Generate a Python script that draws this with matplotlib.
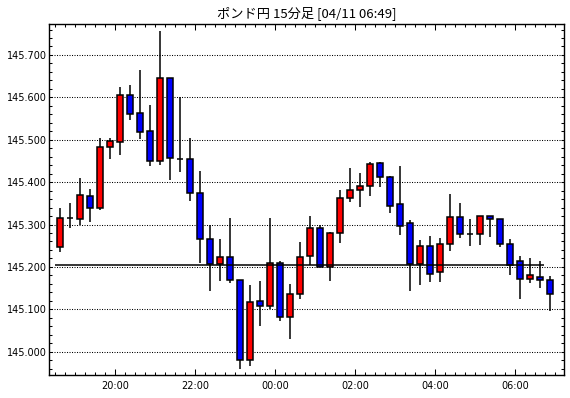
import matplotlib
matplotlib.use("Agg")
import matplotlib.pyplot as plt
import numpy as np

# ポンド円 15分足, 50 candles (19:00 .. 06:45)
opens = [145.248, 145.315, 145.314, 145.367, 145.340, 145.483, 145.495, 145.605, 145.562, 145.520,
         145.451, 145.645, 145.455, 145.454, 145.374, 145.265, 145.208, 145.223, 145.169, 144.980,
         145.120, 145.108, 145.209, 145.081, 145.135, 145.225, 145.291, 145.199, 145.279, 145.362,
         145.381, 145.390, 145.444, 145.411, 145.348, 145.303, 145.208, 145.249, 145.187, 145.253,
         145.317, 145.278, 145.277, 145.319, 145.312, 145.253, 145.214, 145.171, 145.175, 145.168]
highs = [145.339, 145.351, 145.410, 145.384, 145.504, 145.505, 145.624, 145.630, 145.664, 145.582,
         145.756, 145.645, 145.600, 145.504, 145.426, 145.300, 145.265, 145.315, 145.169, 145.157,
         145.167, 145.315, 145.213, 145.160, 145.259, 145.320, 145.300, 145.283, 145.381, 145.434,
         145.421, 145.448, 145.448, 145.415, 145.439, 145.311, 145.263, 145.273, 145.268, 145.372,
         145.351, 145.313, 145.319, 145.319, 145.312, 145.265, 145.226, 145.221, 145.214, 145.178]
lows = [145.236, 145.292, 145.300, 145.306, 145.335, 145.455, 145.464, 145.547, 145.502, 145.439,
        145.441, 145.405, 145.425, 145.356, 145.210, 145.144, 145.167, 145.161, 144.960, 144.967,
        145.061, 145.100, 145.073, 145.031, 145.125, 145.204, 145.199, 145.167, 145.257, 145.354,
        145.342, 145.368, 145.389, 145.328, 145.276, 145.142, 145.157, 145.165, 145.165, 145.238,
        145.269, 145.250, 145.252, 145.271, 145.248, 145.182, 145.124, 145.163, 145.151, 145.095]
closes = [145.315, 145.315, 145.369, 145.340, 145.484, 145.497, 145.605, 145.561, 145.519, 145.451,
          145.645, 145.456, 145.455, 145.374, 145.265, 145.208, 145.223, 145.169, 144.980, 145.117,
          145.108, 145.209, 145.081, 145.135, 145.223, 145.291, 145.199, 145.279, 145.362, 145.381,
          145.391, 145.443, 145.411, 145.343, 145.297, 145.208, 145.249, 145.184, 145.254, 145.318,
          145.277, 145.278, 145.319, 145.312, 145.253, 145.204, 145.171, 145.180, 145.168, 145.135]

time_labels = ["20:00", "22:00", "00:00", "02:00", "04:00", "06:00"]
time_label_pos = [5.5, 13.5, 21.5, 29.5, 37.5, 45.5]
price_line = 145.2045

fig = plt.figure(figsize=(5.7, 3.98), dpi=100)
ax = fig.add_axes([49 / 570, 1 - 375 / 398, 515 / 570, 351 / 398])

o = np.array(opens)
c = np.array(closes)
x = np.arange(len(o))
up = c >= o
colors = np.where(up, "#ff0000", "#0000ff")
bottoms = np.minimum(o, c)
heights = np.abs(c - o)

ax.vlines(x, lows, highs, color="black", linewidth=1.1, zorder=2)
ax.bar(x, heights, bottom=bottoms, width=0.62, color=colors,
       edgecolor="black", linewidth=1.1, zorder=3)

ax.hlines(price_line, -0.5, 48.4, color="black", linewidth=1.1, zorder=4)

ax.set_xlim(-1.13, 50.37)
ax.set_ylim(144.945, 145.773)

ax.set_yticks(np.arange(145.0, 145.75, 0.1))
ax.set_yticklabels(["%.3f" % v for v in np.arange(145.0, 145.75, 0.1)])
ax.set_yticks(np.arange(144.96, 145.77, 0.02), minor=True)
ax.set_xticks(time_label_pos)
ax.set_xticklabels(time_labels)
ax.set_xticks(np.arange(-0.5, 50.0, 1.0), minor=True)

ax.yaxis.grid(True, which="major", color="black", linestyle=(0, (1, 1.4)), linewidth=0.75)
ax.set_axisbelow(True)

ax.tick_params(axis="both", which="both", direction="in", top=True, right=True,
               width=0.75, color="black", labelsize=7)
ax.tick_params(axis="x", which="major", length=4.5, pad=4)
ax.tick_params(axis="x", which="minor", length=2.3)
ax.tick_params(axis="y", which="both", length=2.3, pad=1.5)
for s in ax.spines.values():
    s.set_linewidth(1.0)

fig.text(306.5 / 570, 1 - 13 / 398, "ポンド円 15分足 [04/11 06:49]",
         ha="center", va="center", fontsize=9.5,
         family=["Noto Sans CJK JP", "DejaVu Sans"])

fig.savefig("out.png", dpi=100)
